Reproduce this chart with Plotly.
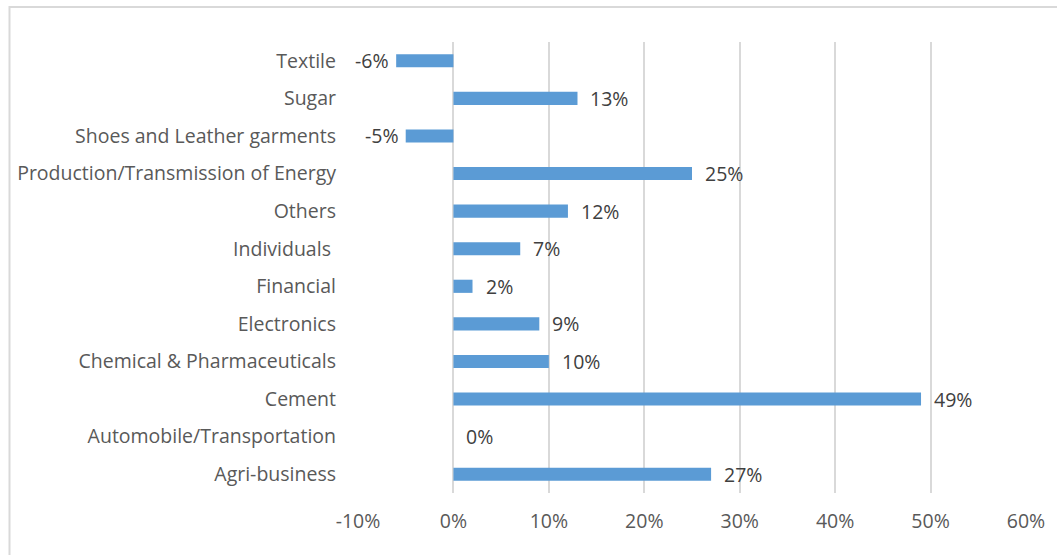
import plotly.graph_objects as go

# Sector growth, listed bottom to top as drawn on the category axis
sectors = [
    "Agri-business",
    "Automobile/Transportation",
    "Cement",
    "Chemical & Pharmaceuticals",
    "Electronics",
    "Financial",
    "Individuals ",
    "Others",
    "Production/Transmission of Energy",
    "Shoes and Leather garments",
    "Sugar",
    "Textile",
]
growth = [0.27, 0.00, 0.49, 0.10, 0.09, 0.02, 0.07, 0.12, 0.25, -0.05, 0.13, -0.06]

x_ticks = [-0.1, 0.0, 0.1, 0.2, 0.3, 0.4, 0.5, 0.6]
x_tick_text = ["-10%", "0%", "10%", "20%", "30%", "40%", "50%", "60%"]

BAR_COLOR = "#5B9BD5"
GRID_COLOR = "#D9D9D9"
FONT = "Open Sans"
FSIZE = 19.5

fig = go.Figure()
fig.add_trace(
    go.Bar(
        x=growth,
        y=sectors,
        orientation="h",
        marker=dict(color=BAR_COLOR, line=dict(width=0)),
        width=0.35,
        hoverinfo="skip",
    )
)

# Value labels sit just past the end of each bar
for name, v in zip(sectors, growth):
    fig.add_annotation(
        x=v,
        y=name,
        xref="x",
        yref="y",
        text=f"{round(v * 100):.0f}%",
        showarrow=False,
        xanchor="right" if v < 0 else "left",
        xshift=-5 if v < 0 else 11,
        font=dict(family=FONT, size=FSIZE, color="#404040"),
    )

# Light chart frame (runs off the right and bottom edges)
fig.add_shape(
    type="rect",
    xref="paper",
    yref="paper",
    x0=-0.5217,
    x1=1.06,
    y0=-0.2,
    y1=1.0776,
    line=dict(color="#D9D9D9", width=2),
    fillcolor="rgba(0,0,0,0)",
    layer="below",
)

fig.update_layout(
    width=1057,
    height=555,
    margin=dict(l=358, r=31, t=42, b=62),
    paper_bgcolor="white",
    plot_bgcolor="white",
    showlegend=False,
    bargap=0.65,
    font=dict(family=FONT, size=FSIZE, color="#595959"),
    xaxis=dict(
        range=[-0.1, 0.6],
        tickvals=x_ticks,
        ticktext=x_tick_text,
        showgrid=True,
        gridcolor=GRID_COLOR,
        gridwidth=1.5,
        zeroline=True,
        zerolinecolor=GRID_COLOR,
        zerolinewidth=1.5,
        showline=False,
        ticks="",
        ticklabelstandoff=14,
        tickfont=dict(family=FONT, size=FSIZE, color="#595959"),
        fixedrange=True,
    ),
    yaxis=dict(
        categoryorder="array",
        categoryarray=sectors,
        range=[-0.5, len(sectors) - 0.5],
        showgrid=False,
        zeroline=False,
        showline=False,
        ticks="",
        ticklabelstandoff=21,
        tickfont=dict(family=FONT, size=FSIZE, color="#595959"),
        fixedrange=True,
    ),
)

fig.write_html("out.html")
